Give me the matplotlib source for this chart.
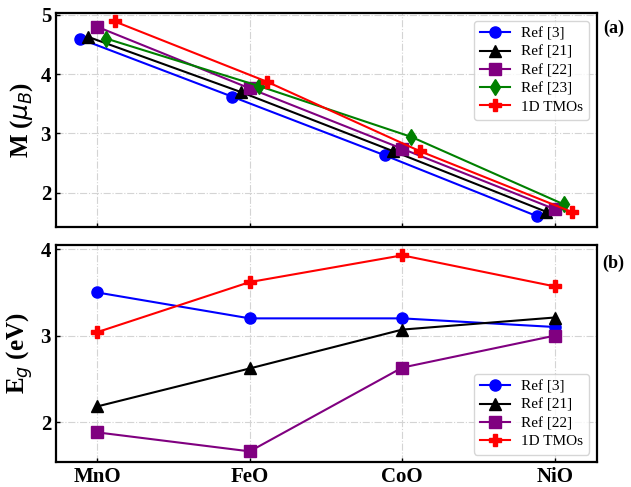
import matplotlib
matplotlib.use("Agg")
import matplotlib.pyplot as plt
import numpy as np

categories = ["MnO", "FeO", "CoO", "NiO"]

# Panel (a): magnetic moment (mu_B)
mag_labels = ["Ref [3]", "Ref [21]", "Ref [22]", "Ref [23]", "1D TMOs"]
mag_ref3 = [4.60, 3.62, 2.63, 1.60]
mag_ref21 = [4.63, 3.70, 2.70, 1.68]
mag_ref22 = [4.80, 3.76, 2.74, 1.72]
mag_ref23 = [4.60, 3.80, 2.94, 1.80]
mag_1d = [4.89, 3.87, 2.70, 1.67]

# Panel (b): band gap (eV)
gap_labels = ["Ref [3]", "Ref [21]", "Ref [22]", "1D TMOs"]
gap_ref3 = [3.50, 3.20, 3.20, 3.10]
gap_ref21 = [2.18, 2.62, 3.07, 3.21]
gap_ref22 = [1.88, 1.66, 2.63, 3.00]
gap_1d = [3.04, 3.62, 3.93, 3.57]

colors = ["blue", "black", "purple", "green", "red"]
markers = ["o", "^", "s", "d", "P"]
offsets_a = [-0.115, -0.06, 0.0, 0.06, 0.115]

plt.rcParams["font.family"] = ["Liberation Serif", "DejaVu Serif"]
plt.rcParams["mathtext.fontset"] = "dejavusans"

fig = plt.figure(figsize=(6.31, 4.87), dpi=100)
ax1 = fig.add_axes([0.0887, 0.534, 0.857, 0.439])
ax2 = fig.add_axes([0.0887, 0.051, 0.857, 0.446])

x = np.arange(len(categories))

mag_series = [mag_ref3, mag_ref21, mag_ref22, mag_ref23, mag_1d]
for vals, lab, c, m, off in zip(mag_series, mag_labels, colors, markers, offsets_a):
    ax1.plot(x + off, vals, color=c, marker=m, markersize=8, lw=1.5, label=lab)

gap_series = [gap_ref3, gap_ref21, gap_ref22, gap_1d]
gcolors = ["blue", "black", "purple", "red"]
gmarkers = ["o", "^", "s", "P"]
for vals, lab, c, m in zip(gap_series, gap_labels, gcolors, gmarkers):
    ax2.plot(x, vals, color=c, marker=m, markersize=8, lw=1.5, label=lab)

for ax in (ax1, ax2):
    ax.set_xlim(-0.27, 3.275)
    ax.set_xticks(x)
    ax.grid(True, color="#d4d4d4", linestyle="-.", lw=0.8)
    ax.set_axisbelow(True)
    ax.tick_params(direction="in", length=3, width=1.0, labelsize=15)
    for s in ax.spines.values():
        s.set_linewidth(1.6)

ax1.set_ylim(1.42, 5.03)
ax1.set_yticks([2, 3, 4, 5])
ax1.set_xticklabels([])
ax1.set_ylabel(r"M ($\mu_B$)", fontsize=18, fontweight="bold", labelpad=4)

ax2.set_ylim(1.535, 4.05)
ax2.set_yticks([2, 3, 4])
ax2.set_xticklabels(categories, fontsize=15, fontweight="bold")
ax2.set_ylabel(r"E$_g$ (eV)", fontsize=18, fontweight="bold", labelpad=4)

for ax in (ax1, ax2):
    for t in ax.get_yticklabels():
        t.set_fontweight("bold")

leg_kw = dict(fontsize=11, frameon=True, fancybox=True, edgecolor="#cccccc",
              handlelength=2.0, handletextpad=0.7, borderpad=0.4, labelspacing=0.3)
ax1.legend(loc="upper right", **leg_kw)
ax2.legend(loc="lower right", **leg_kw)

fig.text(0.972, 0.942, "(a)", fontsize=13, fontweight="bold", ha="center", va="center")
fig.text(0.972, 0.459, "(b)", fontsize=13, fontweight="bold", ha="center", va="center")

fig.savefig("out.png", dpi=100)
